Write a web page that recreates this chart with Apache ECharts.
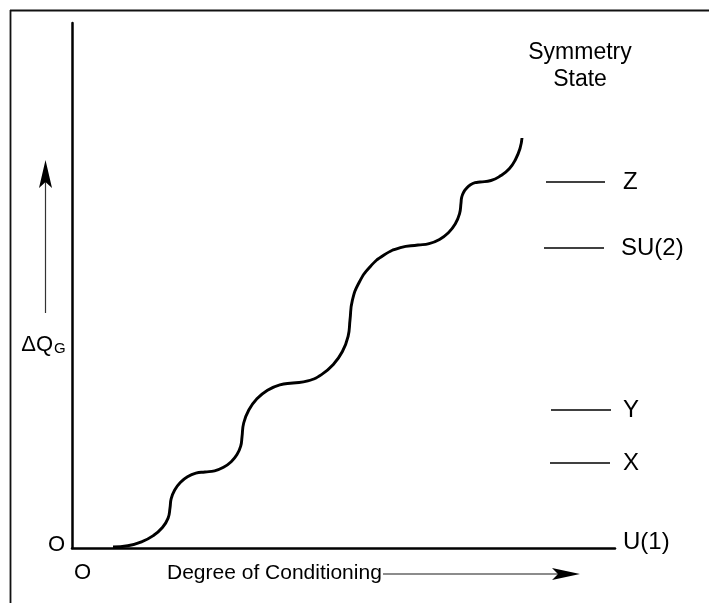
<!DOCTYPE html>
<html>
<head>
<meta charset="utf-8">
<script src="https://cdn.jsdelivr.net/npm/echarts@6/dist/echarts.min.js"></script>
<style>
html,body{margin:0;padding:0;background:#fff;}
#chart{width:709px;height:603px;}
</style>
</head>
<body>
<div id="chart"></div>
<script>
// Curve (degree of conditioning vs ΔQ_G), arbitrary units
const curveX = [41,55.8,69.5,81.3,90.4,96.1,98, 99.2,102.7,108.3,115.5,123.9,133,
                142.6,151.5,159.2,165,168.7,170, 171.7,176.8,184.9,195.5,207.8,221,
                235.8,249.5,261.3,270.4,276.1,278, 280.3,287.1,297.9,312,328.4,346,
                357.1,367.5,376.4,383.2,387.5,389, 389.6,391.5,394.6,398.5,403.1,408,
                419,429,437.5,443.5,448,450];
const curveY = [1,2.3,6.2,12.4,20.5,29.9,40, 49.3,58,65.5,71.2,74.8,76,
                77.2,80.7,86.3,93.5,101.9,111, 125,138,149.2,157.8,163.2,165,
                167.1,173.4,183.5,196.5,211.7,228, 247.4,265.5,281,293,300.4,303,
                304.4,308.6,315.3,324,334.1,345, 350.4,355.5,359.8,363.2,365.3,366,
                367.5,372.5,379.5,388.5,399.5,410];

// Symmetry state levels
const levelNames = ['Z','SU(2)','Y','X'];
const levelY     = [366,300,138,85];
const levelXStart= [474,472,479,478];
const levelXEnd  = [533,532,539,538];

const xMax = 543, yMax = 525;
const axisEndName = 'U(1)';
const originLabel = 'O';
const xTitle = 'Degree of Conditioning';
const yTitleMain = 'ΔQ', yTitleSub = 'G';
const legendTitle = 'Symmetry\nState';

const font = '"Liberation Sans", Arial, sans-serif';
const chart = echarts.init(document.getElementById('chart'), null, {renderer:'canvas'});

const labelDist = {'Z':18,'SU(2)':17,'Y':12,'X':13};

const series = [{
  type:'line',
  data: curveX.map((x,i)=>[x,curveY[i]]),
  smooth:0.5,
  symbol:'none',
  lineStyle:{color:'#000',width:2.9},
  z:5
}];
levelNames.forEach((n,i)=>{
  series.push({
    type:'line',
    data:[[levelXStart[i],levelY[i]],[levelXEnd[i],levelY[i]]],
    symbol:'none',
    lineStyle:{color:'#000',width:1.6},
    endLabel:{show:true,formatter:n,distance:labelDist[n],color:'#000',fontSize:24,fontFamily:font},
    silent:true
  });
});

chart.setOption({
  animation:false,
  backgroundColor:'#fff',
  grid:{left:72,right:94,top:23,bottom:55},
  xAxis:{type:'value',min:0,max:xMax,
    axisLine:{show:true,lineStyle:{color:'#000',width:2.5}},
    axisTick:{show:false},axisLabel:{show:false},splitLine:{show:false}
  },
  yAxis:{type:'value',min:0,max:yMax,
    axisLine:{show:true,lineStyle:{color:'#000',width:2.5}},
    axisTick:{show:false},axisLabel:{show:false},splitLine:{show:false}
  },
  series:series,
  graphic:{elements:[
    {type:'line',shape:{x1:10,y1:10.5,x2:709,y2:10.5},style:{stroke:'#111',lineWidth:1.8},silent:true},
    {type:'line',shape:{x1:10.5,y1:10,x2:10.5,y2:603},style:{stroke:'#111',lineWidth:1.8},silent:true},
    {type:'text',x:623,y:542,style:{text:axisEndName,fill:'#000',font:'24px '+font,align:'left',verticalAlign:'middle'}},
    {type:'text',x:56.5,y:544.5,style:{text:originLabel,fill:'#000',font:'22px '+font,align:'center',verticalAlign:'middle'}},
    {type:'text',x:82.5,y:572.5,style:{text:originLabel,fill:'#000',font:'22px '+font,align:'center',verticalAlign:'middle'}},
    {type:'text',x:167,y:573,style:{text:xTitle,fill:'#000',font:'21px '+font,align:'left',verticalAlign:'middle'}},
    {type:'line',shape:{x1:383,y1:574,x2:562,y2:574},style:{stroke:'#666',lineWidth:1.6},silent:true},
    {type:'polygon',shape:{points:[[580,574],[552,568],[558,574],[552,580]]},style:{fill:'#000'}},
    {type:'line',shape:{x1:45.5,y1:313,x2:45.5,y2:182},style:{stroke:'#333',lineWidth:1.2},silent:true},
    {type:'polygon',shape:{points:[[45.5,160],[52,188],[45.5,182],[39,188]]},style:{fill:'#000'}},
    {type:'text',x:53,y:345,style:{text:yTitleMain,fill:'#000',font:'22px '+font,align:'right',verticalAlign:'middle'}},
    {type:'text',x:54,y:348.5,style:{text:yTitleSub,fill:'#000',font:'15px '+font,align:'left',verticalAlign:'middle'}},
    {type:'text',x:580,y:66.5,style:{text:legendTitle,fill:'#000',font:'23px '+font,align:'center',verticalAlign:'middle',lineHeight:27}}
  ]}
});
</script>
</body>
</html>
